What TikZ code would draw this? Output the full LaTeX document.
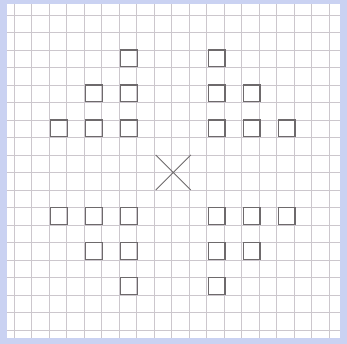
\documentclass[tikz,border=0pt]{standalone}
\usepackage{xcolor}
\usepackage{tikz}
\usetikzlibrary{calc}
\definecolor{edgeblue}{RGB}{202,210,242}
\definecolor{gridgray}{RGB}{204,199,205}
\definecolor{penline}{RGB}{110,106,108}
\tikzset{
  gridline/.style={draw=gridgray, line width=0.6pt},
  cellbox/.style={draw=penline, line width=1.1pt},
  cross/.style={draw=penline, line width=0.8pt},
}
\begin{document}
\begin{tikzpicture}[x=0.5cm, y=0.5cm]
\useasboundingbox (-9.8,-9.8) rectangle (10.03,9.857);
% blue margin and paper
\fill[edgeblue] (-9.8,-9.8) rectangle (10.03,9.857);
\fill[white] (-9.4,-9.457) rectangle (9.63,9.6);
% grid
\foreach \k in {-9,...,9} {
  \draw[gridline] (\k,-9.457) -- (\k,9.6);
  \draw[gridline] (-9.4,\k) -- (9.63,\k);
}
% squares, lower left corners of the cells
\foreach \cx/\cy in {-3/6, -5/4, -3/4, -7/2, -5/2, -3/2,
                     2/6, 2/4, 4/4, 2/2, 4/2, 6/2,
                     -7/-3, -5/-3, -3/-3, -5/-5, -3/-5, -3/-7,
                     2/-3, 4/-3, 6/-3, 2/-5, 4/-5, 2/-7}
  \draw[cellbox] (\cx+0.1,\cy+0.04) rectangle ++(0.96,0.96);
% centre mark
\coordinate (c) at (0.1,0);
\draw[cross] ($(c)+(-1,-1)$) -- ($(c)+(1,1)$);
\draw[cross] ($(c)+(-1,1)$) -- ($(c)+(1,-1)$);
\end{tikzpicture}
\end{document}
